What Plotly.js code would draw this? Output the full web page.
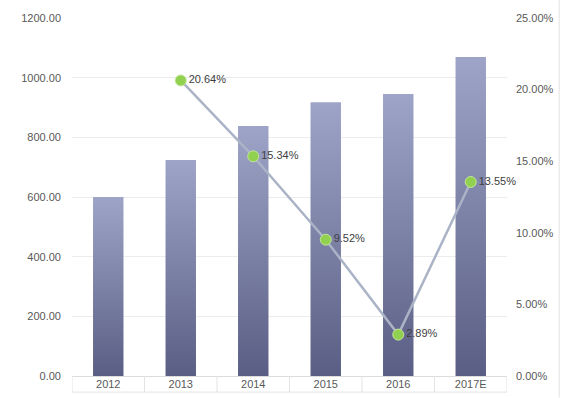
<!DOCTYPE html>
<html><head><meta charset="utf-8">
<script src="https://cdn.plot.ly/plotly-3.0.1.min.js"></script>
<style>html,body{margin:0;padding:0;background:#fff}#c{width:569px;height:398px}</style>
</head><body><div id="c"></div>
<script>
const years = ['2012','2013','2014','2015','2016','2017E'];
const values = [600, 724, 838, 918, 945, 1069];
const growthYears = ['2013','2014','2015','2016','2017E'];
const growth = [0.2064, 0.1534, 0.0952, 0.0289, 0.1355];
const leftTicks = [0,200,400,600,800,1000,1200];
const rightTicks = [0,0.05,0.10,0.15,0.20,0.25];

const font = {family:'Liberation Sans, Arial, sans-serif', size:11, color:'#595959'};
const data = [
  {type:'bar', x:years, y:values, marker:{color:'#7a7fa6'}, hoverinfo:'none'},
  {type:'scatter', mode:'lines+markers+text', x:growthYears, y:growth, yaxis:'y2',
   line:{color:'#aab4c6', width:2.5},
   marker:{color:'#92d050', size:11, line:{color:'#c3e69b', width:1}},
   text:growth.map(v=>(v*100).toFixed(2)+'%'), textposition:'middle right',
   textfont:{family:'Liberation Sans, Arial, sans-serif', size:11, color:'#404040'}, cliponaxis:false}
];
const sepShapes = years.concat(['']).map((_,i)=>({type:'line', xref:'x', yref:'paper', x0:i-0.5, x1:i-0.5, y0:-0.045, y1:0, line:{color:'#e3e3e3', width:1}}));
const layout = {
  width:569, height:398, margin:{l:72, r:62, t:18, b:22},
  paper_bgcolor:'#fff', plot_bgcolor:'#fff', showlegend:false, bargap:0.58, font:font,
  xaxis:{type:'category', range:[-0.5, years.length-0.5], ticks:'', showgrid:false, showline:false, zeroline:false, tickfont:font, ticklabelstandoff:0},
  yaxis:{range:[0,1200], tickvals:leftTicks, ticktext:leftTicks.map(v=>v.toFixed(2)),
    gridcolor:'#ececec', zeroline:true, zerolinecolor:'#dcdcdc', showline:false, ticks:'', tickfont:font, ticklabelstandoff:10},
  yaxis2:{range:[0,0.25], overlaying:'y', side:'right', tickvals:rightTicks,
    ticktext:rightTicks.map(v=>(v*100).toFixed(2)+'%'), showgrid:false, zeroline:false, showline:false, tickfont:font, ticklabelstandoff:8},
  shapes:[
    {type:'line', xref:'paper', yref:'paper', x0:0, x1:1, y0:-0.045, y1:-0.045, line:{color:'#e3e3e3', width:1}},
    {type:'line', xref:'paper', yref:'paper', x0:1.12, x1:1.12, y0:-0.06, y1:1.05, line:{color:'#e3e3e3', width:1}}
  ].concat(sepShapes)
};
Plotly.newPlot('c', data, layout, {staticPlot:true}).then(()=>{
  const svg = document.querySelector('#c .main-svg');
  const ns='http://www.w3.org/2000/svg';
  let defs = svg.querySelector('defs');
  const g = document.createElementNS(ns,'linearGradient');
  g.setAttribute('id','barGrad'); g.setAttribute('x1','0'); g.setAttribute('y1','0'); g.setAttribute('x2','0'); g.setAttribute('y2','1');
  [['0%','#9ea4c8'],['100%','#5a5e84']].forEach(([o,c])=>{const s=document.createElementNS(ns,'stop');s.setAttribute('offset',o);s.setAttribute('stop-color',c);g.appendChild(s);});
  defs.appendChild(g);
  document.querySelectorAll('#c .bars .point path').forEach(p=>{p.style.fill='url(#barGrad)';});
});
</script></body></html>
